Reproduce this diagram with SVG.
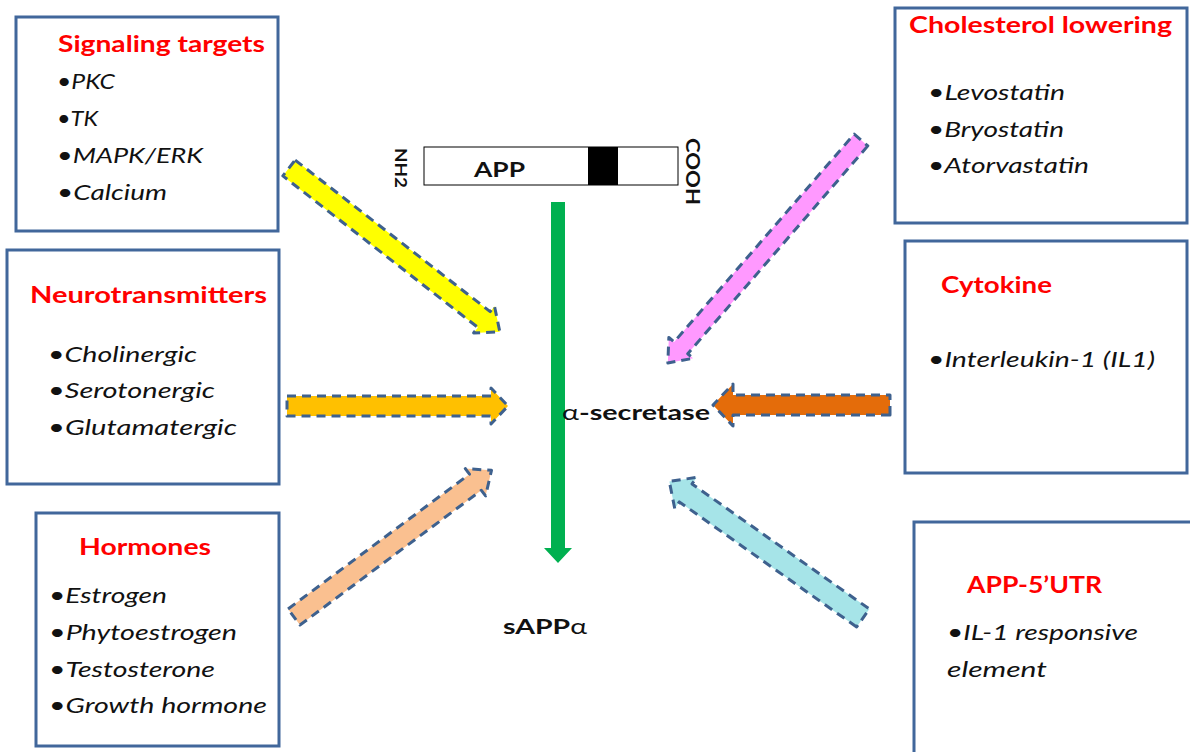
<svg xmlns="http://www.w3.org/2000/svg" width="1190" height="752" viewBox="0 0 1190 752">
<style>
.box{fill:#fff;stroke:#41679b;stroke-width:3}
.title{font-family:Lato,"Liberation Sans",sans-serif;font-weight:bold;font-size:22px;fill:#ff0000}
.item{font-family:Lato,"Liberation Sans",sans-serif;font-size:22px;fill:#111}
.it{font-style:italic}
.lbl{font-family:Lato,"Liberation Sans",sans-serif;font-weight:bold;font-size:21px;fill:#111}
.arr{stroke:#3e618e;stroke-width:3;stroke-dasharray:9 6;stroke-linejoin:round}
</style>
<rect width="1190" height="752" fill="#fff"/>
<g id="connectors">
  <path class="arr" fill="#ffff00" transform="translate(289,168) rotate(37.85)" d="M0,-10 L247,-10 L247,-17 L267,0 L247,17 L247,10 L0,10 Z"/>
  <path class="arr" fill="#ffc000" transform="translate(287,406)" d="M0,-10 L204,-10 L204,-18 L221,0 L204,18 L204,10 L0,10 Z"/>
  <path class="arr" fill="#fac090" transform="translate(294,617) rotate(-36.6)" d="M0,-10 L226,-10 L226,-17 L246,0 L226,17 L226,10 L0,10 Z"/>
  <path class="arr" fill="#ff99ff" transform="translate(861,140) rotate(130.9)" d="M0,-9 L275,-9 L275,-16 L295,0 L275,16 L275,9 L0,9 Z"/>
  <path class="arr" fill="#e46c0a" transform="translate(890,405) rotate(180)" d="M0,-10 L157,-10 L157,-21 L177,0 L157,21 L157,10 L0,10 Z"/>
  <path class="arr" fill="#a6e4e8" transform="translate(863,618) rotate(215.2)" d="M0,-11 L217,-11 L217,-19 L237,0 L217,19 L217,11 L0,11 Z"/>
  <path fill="#00b050" d="M551,202 L565,202 L565,548 L572,548 L558,563 L544,548 L551,548 Z"/>
</g>
<g id="app">
  <rect x="424" y="147" width="254" height="38" fill="#fff" stroke="#000" stroke-width="1"/>
  <rect x="588" y="147" width="30" height="38" fill="#000"/>
  <text class="lbl" x="474" y="177" font-size="22" textLength="51" lengthAdjust="spacingAndGlyphs">APP</text>
  <text class="lbl" transform="translate(395,148) rotate(90)" x="0" y="0" style="font-size:17px" textLength="40" lengthAdjust="spacingAndGlyphs">NH2</text>
  <text class="lbl" transform="translate(686,138) rotate(90)" x="0" y="0" style="font-size:19px" textLength="67" lengthAdjust="spacingAndGlyphs">COOH</text>
</g>
<g id="secretase">
  <text class="lbl" x="562" y="420" textLength="148" lengthAdjust="spacingAndGlyphs"><tspan font-weight="normal">α</tspan>-secretase</text>
</g>
<g id="sappa">
  <text class="lbl" x="503" y="634" textLength="84" lengthAdjust="spacingAndGlyphs">sAPP<tspan font-weight="normal">α</tspan></text>
</g>
<g id="signaling">
  <rect class="box" x="16" y="17" width="262" height="214"/>
  <text class="title" x="58" y="52" textLength="207" lengthAdjust="spacingAndGlyphs">Signaling targets</text>
  <text class="item" x="57" y="89" textLength="58" lengthAdjust="spacingAndGlyphs">•<tspan class="it">PKC</tspan></text>
  <text class="item" x="57" y="126" textLength="41" lengthAdjust="spacingAndGlyphs">•<tspan class="it">TK</tspan></text>
  <text class="item" x="57" y="163" textLength="146" lengthAdjust="spacingAndGlyphs">•<tspan class="it">MAPK/ERK</tspan></text>
  <text class="item" x="57" y="200" textLength="110" lengthAdjust="spacingAndGlyphs">•<tspan class="it">Calcium</tspan></text>
</g>
<g id="neuro">
  <rect class="box" x="7" y="250" width="272" height="234"/>
  <text class="title" x="30" y="303" textLength="237" lengthAdjust="spacingAndGlyphs">Neurotransmitters</text>
  <text class="item" x="48" y="362" textLength="149" lengthAdjust="spacingAndGlyphs">•<tspan class="it">Cholinergic</tspan></text>
  <text class="item" x="48" y="398" textLength="167" lengthAdjust="spacingAndGlyphs">•<tspan class="it">Serotonergic</tspan></text>
  <text class="item" x="48" y="435" textLength="189" lengthAdjust="spacingAndGlyphs">•<tspan class="it">Glutamatergic</tspan></text>
</g>
<g id="hormones">
  <rect class="box" x="36" y="513" width="243" height="233"/>
  <text class="title" x="79" y="555" textLength="132" lengthAdjust="spacingAndGlyphs">Hormones</text>
  <text class="item" x="49" y="603" textLength="118" lengthAdjust="spacingAndGlyphs">•<tspan class="it">Estrogen</tspan></text>
  <text class="item" x="49" y="640" textLength="188" lengthAdjust="spacingAndGlyphs">•<tspan class="it">Phytoestrogen</tspan></text>
  <text class="item" x="49" y="677" textLength="166" lengthAdjust="spacingAndGlyphs">•<tspan class="it">Testosterone</tspan></text>
  <text class="item" x="49" y="713" textLength="218" lengthAdjust="spacingAndGlyphs">•<tspan class="it">Growth hormone</tspan></text>
</g>
<g id="cholesterol">
  <rect class="box" x="895" y="8" width="292" height="215"/>
  <text class="title" x="909" y="33" textLength="263" lengthAdjust="spacingAndGlyphs">Cholesterol lowering</text>
  <text class="item" x="928" y="100" textLength="137" lengthAdjust="spacingAndGlyphs">•<tspan class="it">Levostatin</tspan></text>
  <text class="item" x="928" y="137" textLength="136" lengthAdjust="spacingAndGlyphs">•<tspan class="it">Bryostatin</tspan></text>
  <text class="item" x="928" y="173" textLength="161" lengthAdjust="spacingAndGlyphs">•<tspan class="it">Atorvastatin</tspan></text>
</g>
<g id="cytokine">
  <rect class="box" x="905" y="241" width="282" height="232"/>
  <text class="title" x="941" y="293" textLength="111" lengthAdjust="spacingAndGlyphs">Cytokine</text>
  <text class="item" x="928" y="367" textLength="227" lengthAdjust="spacingAndGlyphs">•<tspan class="it">Interleukin-1 (IL1)</tspan></text>
</g>
<g id="utr">
  <rect class="box" x="914" y="522" width="290" height="240"/>
  <text class="title" x="967" y="593" textLength="135" lengthAdjust="spacingAndGlyphs">APP-5’UTR</text>
  <text class="item" x="947" y="640" textLength="191" lengthAdjust="spacingAndGlyphs">•<tspan class="it">IL-1 responsive</tspan></text>
  <text class="item it" x="947" y="677" textLength="100" lengthAdjust="spacingAndGlyphs">element</text>
</g>
</svg>
